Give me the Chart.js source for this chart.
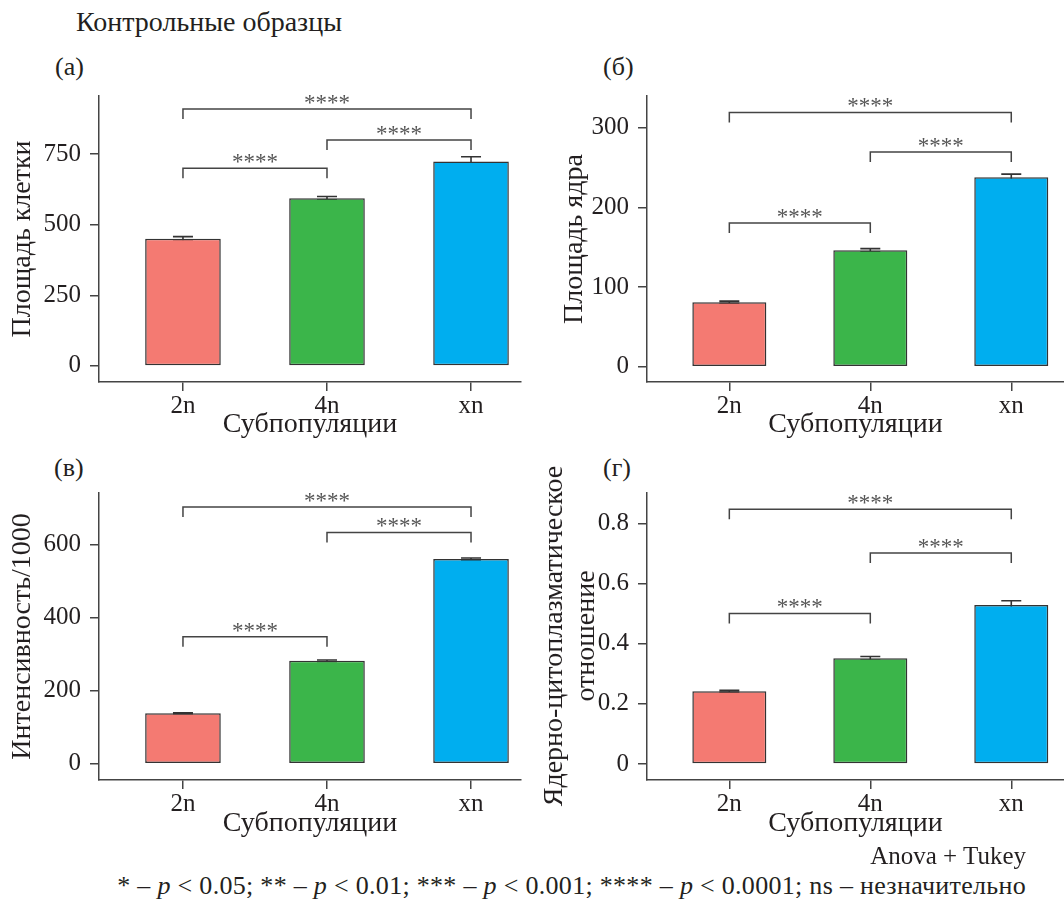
<!DOCTYPE html>
<html>
<head>
<meta charset="utf-8">
<script src="https://cdn.jsdelivr.net/npm/chart.js@4.4.1/dist/chart.umd.min.js"></script>
<style>
  body { margin: 0; background: #fff; width: 1064px; height: 901px; position: relative; overflow: hidden;
         font-family: "Liberation Serif", "Times New Roman", serif; color: #231f20; }
  canvas { position: absolute; }
  .txt { position: absolute; white-space: nowrap; line-height: 1; font-size: 26px; }
  .ytitle { position: absolute; width: 400px; height: 64px; line-height: 32px; font-size: 28px;
            text-align: center; transform: rotate(-90deg); white-space: nowrap; }
</style>
</head>
<body>
<div class="txt" style="left:76px; top:8px; font-size:28px;">Контрольные образцы</div>
<div class="txt" style="left:55px; top:54px;">(а)</div>
<div class="txt" style="left:603px; top:54px;">(б)</div>
<div class="txt" style="left:54px; top:455px;">(в)</div>
<div class="txt" style="left:603px; top:455px;">(г)</div>

<canvas id="chartA" width="530" height="370" style="left:0; top:80px;"></canvas>
<canvas id="chartB" width="534" height="370" style="left:530px; top:80px;"></canvas>
<canvas id="chartC" width="530" height="380" style="left:0; top:470px;"></canvas>
<canvas id="chartD" width="534" height="380" style="left:530px; top:470px;"></canvas>

<div class="ytitle" style="left:369px; top:604px;">Ядерно-цитоплазматическое<br>отношение</div>

<div class="txt" style="right:38px; top:843px; font-size:25px;">Anova + Tukey</div>
<div class="txt" style="right:38px; top:873px; letter-spacing:0.3px;">* – <i>p</i> &lt; 0.05; ** – <i>p</i> &lt; 0.01; *** – <i>p</i> &lt; 0.001; **** – <i>p</i> &lt; 0.0001; ns – незначительно</div>

<script>
// categories (subpopulations)
const categories = ['2n', '4n', 'xn'];
const barColors = ['#F47A72', '#3BB54A', '#00AEEF'];

// (а) cell area
const cellArea = [450, 594, 724];
const cellAreaErr = [8, 6, 17];
const cellAreaTicks = [0, 250, 500, 750];
const cellAreaPairs = [[0, 1, 700], [1, 2, 800], [0, 2, 910]];

// (б) nucleus area
const nucArea = [81, 146.3, 238];
const nucAreaErr = [1.3, 2, 3.8];
const nucAreaTicks = [0, 100, 200, 300];
const nucAreaPairs = [[0, 1, 180.6], [1, 2, 269.5], [0, 2, 319.3]];

// (в) intensity / 1000
const intensity = [138, 281.8, 560.8];
const intensityErr = [1.5, 2.5, 3];
const intensityTicks = [0, 200, 400, 600];
const intensityPairs = [[0, 1, 347.6], [1, 2, 633.8], [0, 2, 703.4]];

// (г) nucleo-cytoplasmic ratio
const ncRatio = [0.242, 0.352, 0.529];
const ncRatioErr = [0.003, 0.006, 0.0143];
const ncRatioTicks = [0, 0.2, 0.4, 0.6, 0.8];
const ncRatioPairs = [[0, 1, 0.501], [1, 2, 0.702], [0, 2, 0.848]];

const sigLabel = '****';

const FONT = '"Liberation Serif", "Times New Roman", serif';
const TEXT = '#231f20';
const AXIS = '#444';

function makePanel(id, cfg) {
    // error bars go under the bars, brackets on top
    const marks = {
        id: 'marks_' + id,
        beforeDatasetsDraw(chart) {
            const ctx = chart.ctx, xs = chart.scales.x, ys = chart.scales.y;
            ctx.save();
            ctx.strokeStyle = '#333';
            ctx.lineWidth = 1.6;
            cfg.values.forEach((v, i) => {
                const x = xs.getPixelForValue(i);
                const y1 = ys.getPixelForValue(v + cfg.errors[i]);
                const y2 = ys.getPixelForValue(v - cfg.errors[i]);
                ctx.beginPath();
                ctx.moveTo(x, y1); ctx.lineTo(x, y2);
                ctx.moveTo(x - 10, y1); ctx.lineTo(x + 10, y1);
                ctx.moveTo(x - 10, y2); ctx.lineTo(x + 10, y2);
                ctx.stroke();
            });
            ctx.restore();
        },
        afterDatasetsDraw(chart) {
            const ctx = chart.ctx, xs = chart.scales.x, ys = chart.scales.y;
            ctx.save();
            ctx.strokeStyle = AXIS;
            ctx.fillStyle = '#555';
            ctx.lineWidth = 1.5;
            ctx.font = '23px ' + FONT;
            ctx.textAlign = 'center';
            ctx.textBaseline = 'alphabetic';
            cfg.pairs.forEach(p => {
                const xa = xs.getPixelForValue(p[0]);
                const xb = xs.getPixelForValue(p[1]);
                const y = ys.getPixelForValue(p[2]);
                ctx.beginPath();
                ctx.moveTo(xa, y + 10); ctx.lineTo(xa, y);
                ctx.lineTo(xb, y); ctx.lineTo(xb, y + 10);
                ctx.stroke();
                ctx.fillText(sigLabel, (xa + xb) / 2, y + 1);
            });
            ctx.restore();
        }
    };

    const yTitle = cfg.yTitle
        ? { display: true, text: cfg.yTitle, color: TEXT, font: { family: FONT, size: 28, lineHeight: 1.2 },
            padding: { top: cfg.yTitlePad, bottom: 0 } }
        : { display: false };

    return new Chart(document.getElementById(id), {
        type: 'bar',
        data: {
            datasets: [{
                data: cfg.values.map((v, i) => ({ x: i, y: v })),
                backgroundColor: barColors,
                borderColor: '#333',
                borderWidth: 1.5,
                borderSkipped: false,
                barPercentage: 0.525,
                categoryPercentage: 1
            }]
        },
        options: {
            responsive: false,
            animation: false,
            layout: { padding: { left: 0, top: cfg.padTop, right: cfg.padRight, bottom: 0 } },
            plugins: { legend: { display: false }, tooltip: { enabled: false } },
            scales: {
                x: {
                    type: 'linear',
                    offset: false,
                    min: cfg.xMin,
                    max: cfg.xMax,
                    afterBuildTicks: s => { s.ticks = categories.map((c, i) => ({ value: i })); },
                    afterFit: s => { s.height = cfg.xH; s.paddingLeft = 0; s.paddingRight = 0; },
                    grid: { offset: false, drawOnChartArea: false, tickLength: 9, color: AXIS, lineWidth: 1.5 },
                    border: { display: true, color: AXIS, width: 1.5 },
                    ticks: { color: TEXT, padding: 0, font: { family: FONT, size: 25 },
                             callback: v => categories[v] },
                    title: { display: true, text: 'Субпопуляции', color: TEXT,
                             font: { family: FONT, size: 28, lineHeight: 1.2 },
                             padding: { top: 0, bottom: cfg.xTitlePad } }
                },
                y: {
                    min: cfg.yMin,
                    max: cfg.yMax,
                    afterBuildTicks: s => { s.ticks = cfg.ticks.map(v => ({ value: v })); },
                    afterFit: s => { s.width = cfg.yW; s.paddingTop = 0; s.paddingBottom = 0; },
                    grid: { drawOnChartArea: false, tickLength: 9, color: AXIS, lineWidth: 1.5 },
                    border: { display: true, color: AXIS, width: 1.5 },
                    ticks: { color: TEXT, padding: 9, font: { family: FONT, size: 25 },
                             callback: v => String(v) },
                    title: yTitle
                }
            }
        },
        plugins: [marks]
    });
}

makePanel('chartA', {
    values: cellArea, errors: cellAreaErr, pairs: cellAreaPairs, ticks: cellAreaTicks,
    yMin: -57, yMax: 956, xMin: -0.583, xMax: 2.347,
    padTop: 16, padRight: 9, yW: 99, xH: 68, xTitlePad: 8.4,
    yTitle: 'Площадь клетки', yTitlePad: 6.2
});
makePanel('chartB', {
    values: nucArea, errors: nucAreaErr, pairs: nucAreaPairs, ticks: nucAreaTicks,
    yMin: -19.3, yMax: 340, xMin: -0.584, xMax: 2.374,
    padTop: 16, padRight: 0, yW: 117, xH: 68, xTitlePad: 8.4,
    yTitle: 'Площадь ядра', yTitlePad: 28.2
});
makePanel('chartC', {
    values: intensity, errors: intensityErr, pairs: intensityPairs, ticks: intensityTicks,
    yMin: -44.7, yMax: 741.8, xMin: -0.583, xMax: 2.347,
    padTop: 23, padRight: 9, yW: 99, xH: 70, xTitlePad: 9.4,
    yTitle: 'Интенсивность/1000', yTitlePad: 6.2
});
makePanel('chartD', {
    values: ncRatio, errors: ncRatioErr, pairs: ncRatioPairs, ticks: ncRatioTicks,
    yMin: -0.0533, yMax: 0.902, xMin: -0.584, xMax: 2.374,
    padTop: 23, padRight: 0, yW: 117, xH: 70, xTitlePad: 9.4,
    yTitle: null
});
</script>
</body>
</html>
